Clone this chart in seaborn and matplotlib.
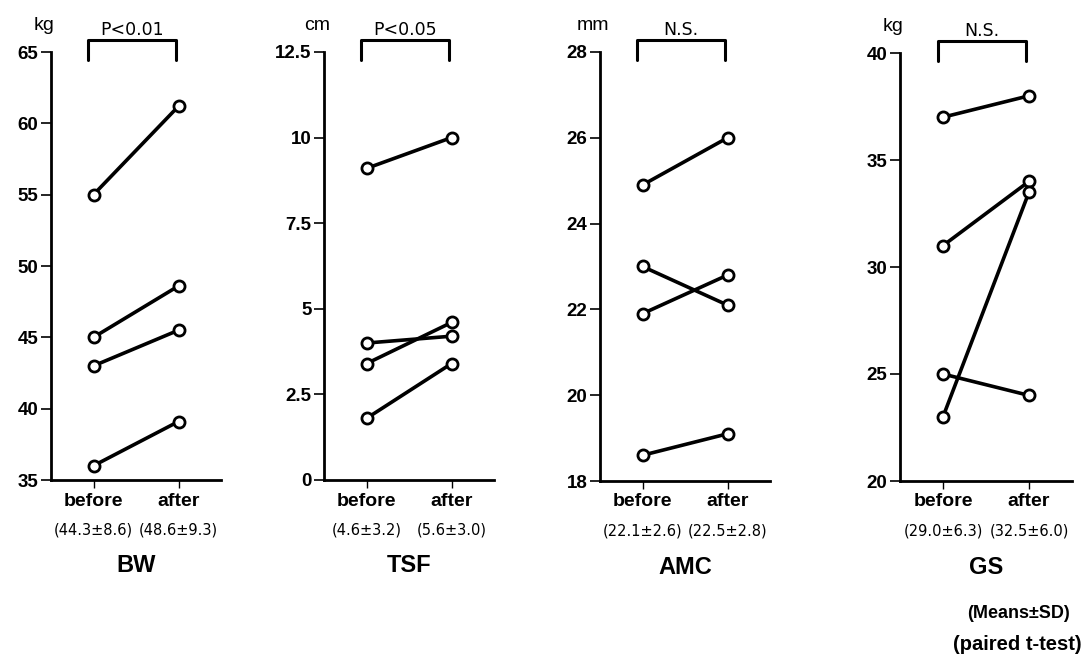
import pandas as pd
import matplotlib.pyplot as plt
import seaborn as sns

# waarden per paneel (voor -> na)
bw_before = [55.0, 45.0, 43.0, 36.0]
bw_after = [61.2, 48.6, 45.5, 39.1]
tsf_before = [9.1, 4.0, 3.4, 1.8]
tsf_after = [10.0, 4.2, 4.6, 3.4]
amc_before = [24.9, 23.0, 21.9, 18.6]
amc_after = [26.0, 22.1, 22.8, 19.1]
gs_before = [37.0, 31.0, 25.0, 23.0]
gs_after = [38.0, 34.0, 24.0, 33.5]

names = ['BW', 'TSF', 'AMC', 'GS']
units = ['kg', 'cm', 'mm', 'kg']
pvals = ['P<0.01', 'P<0.05', 'N.S.', 'N.S.']
means = [('(44.3±8.6)', '(48.6±9.3)'), ('(4.6±3.2)', '(5.6±3.0)'),
         ('(22.1±2.6)', '(22.5±2.8)'), ('(29.0±6.3)', '(32.5±6.0)')]
ylims = [(35, 65), (0, 12.5), (18, 28), (20, 40)]
yticks = [[35, 40, 45, 50, 55, 60, 65], [0, 2.5, 5, 7.5, 10, 12.5],
          [18, 20, 22, 24, 26, 28], [20, 25, 30, 35, 40]]
ytick_labels = [['35', '40', '45', '50', '55', '60', '65'],
                ['0', '2.5', '5', '7.5', '10', '12.5'],
                ['18', '20', '22', '24', '26', '28'],
                ['20', '25', '30', '35', '40']]
data = [(bw_before, bw_after), (tsf_before, tsf_after),
        (amc_before, amc_after), (gs_before, gs_after)]

sns.set_style('ticks')
plt.rcParams['font.family'] = ['Liberation Sans', 'DejaVu Sans']
plt.rcParams['text.color'] = 'black'
plt.rcParams['xtick.color'] = 'black'
plt.rcParams['ytick.color'] = 'black'
plt.rcParams['axes.edgecolor'] = 'black'

W, H = 1085, 655
fig = plt.figure(figsize=(10.85, 6.55), dpi=100)

# posities van de assen in pixels: links, rechts, boven, onder
boxes = [(51, 221, 52, 480), (324, 494, 52, 480), (600, 770, 52, 481), (900, 1072, 53, 481)]

for i in range(4):
    l, r, t, b = boxes[i]
    ax = fig.add_axes([l / W, (H - b) / H, (r - l) / W, (b - t) / H])

    # pixel-offset t.o.v. de bovenkant van de as -> as-fractie
    def fy(dpx):
        return 1 + dpx / (b - t)

    before, after = data[i]
    df = pd.DataFrame({
        'id': list(range(4)) * 2,
        'time': [0] * 4 + [1] * 4,
        'value': before + after,
    })
    sns.lineplot(x='time', y='value', units='id', estimator=None, data=df, ax=ax,
                 color='black', linewidth=2.6, marker='o', markersize=8,
                 markerfacecolor='white', markeredgecolor='black', markeredgewidth=2)
    ax.set_xlim(-0.5, 1.5)
    ax.set_ylim(*ylims[i])
    ax.set_yticks(yticks[i])
    ax.set_yticklabels(ytick_labels[i], fontsize=13.5, fontweight='bold')
    ax.set_xticks([0, 1])
    ax.set_xticklabels(['before', 'after'], fontsize=14, fontweight='bold')
    ax.tick_params(axis='y', length=7, width=1.2, pad=2)
    ax.tick_params(axis='x', length=6, width=1.0, pad=3)
    ax.set_xlabel('')
    ax.set_ylabel('')
    sns.despine(ax=ax)
    ax.spines['left'].set_linewidth(2)
    ax.spines['bottom'].set_linewidth(2)

    # eenheid en significantie-haak
    ax.text(-7 / (r - l), fy(22), units[i], transform=ax.transAxes, fontsize=14,
            ha='center', va='baseline')
    ax.plot([-0.06, -0.06, 0.97, 0.97], [fy(-8), fy(12), fy(12), fy(-8)],
            transform=ax.get_xaxis_transform(), color='black', linewidth=2.2, clip_on=False)
    ax.text(0.45, fy(17), pvals[i], transform=ax.get_xaxis_transform(), fontsize=12.5,
            family=['DejaVu Sans'], ha='center', va='baseline')

    # gemiddelden en naam van de parameter
    for k in range(2):
        ax.text(k, -50 / (b - t), means[i][k], transform=ax.get_xaxis_transform(),
                fontsize=10.5, family=['DejaVu Sans'], ha='center', va='center')
    ax.text(0.5, -86 / (b - t), names[i], transform=ax.get_xaxis_transform(), fontsize=17,
            fontweight='bold', ha='center', va='center')

fig.text(1070 / W, (H - 613) / H, '(Means±SD)', fontsize=13, fontweight='bold',
         ha='right', va='center')
fig.text(1082 / W, (H - 644) / H, '(paired t-test)', fontsize=14.5, fontweight='bold',
         ha='right', va='center')

plt.savefig('out.png', dpi=100)
